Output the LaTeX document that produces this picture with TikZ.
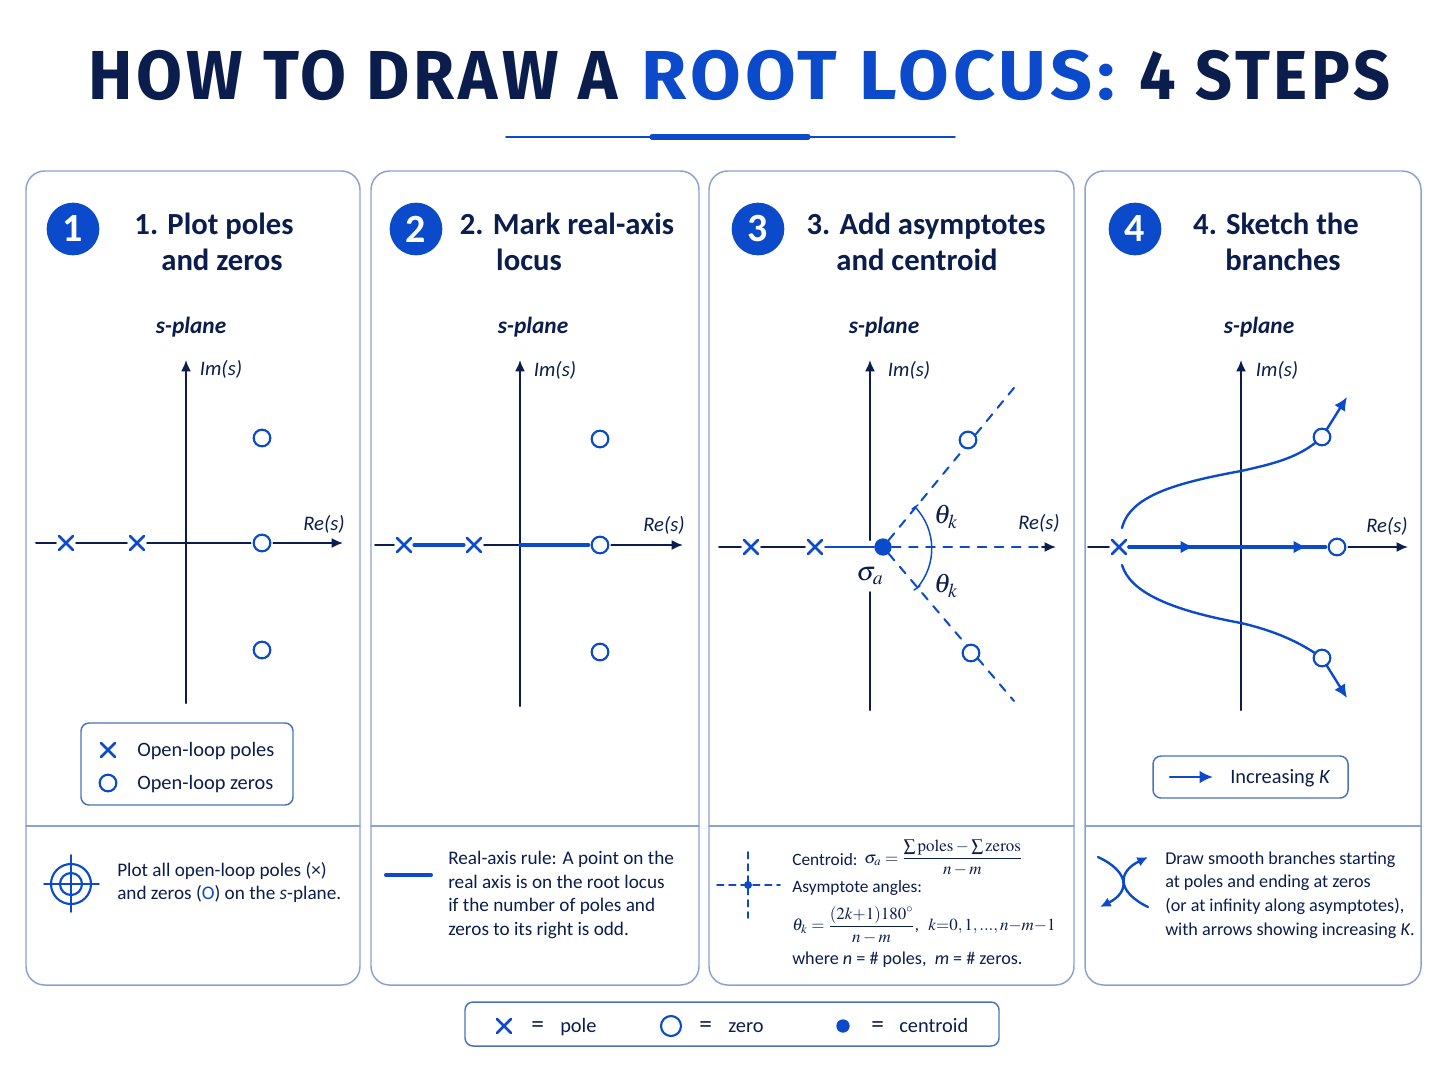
\documentclass[tikz,border=0pt]{standalone}
\usepackage{amsmath}
\usepackage{mathptmx}
\usepackage[no-math]{fontspec}
\setmainfont{Carlito}
\newfontfamily\titlefont[LetterSpace=6]{Fira Sans}
\usetikzlibrary{shapes.misc, arrows.meta}
\definecolor{navy}{HTML}{0B1D4D}
\definecolor{rlblue}{HTML}{0B4BCB}
\definecolor{frameblue}{HTML}{8AA2CF}
\definecolor{boxblue}{HTML}{4A72BC}
\newcommand{\bodyfont}{\fontsize{14.4}{17.8}\selectfont}
\newcommand{\narrowfont}{\fontsize{13.6}{17.8}\selectfont}
\newcommand{\keyfont}{\fontsize{15.3}{18}\selectfont}
\newcommand{\headfont}{\fontsize{23}{27}\selectfont\bfseries}
\newcommand{\planefont}{\fontsize{17.5}{20}\selectfont\bfseries\itshape}
\newcommand{\axisfont}{\fontsize{15.5}{18}\selectfont\itshape}
\tikzset{
  titlepart/.style={inner sep=0pt, text=navy, anchor=base, transform shape, font=\titlefont\fontsize{52}{60}\selectfont\bfseries},
  panelbox/.style={draw=frameblue, line width=1.1pt, rounded corners=14pt},
  keybox/.style={draw=boxblue, line width=1.1pt, rounded corners=6pt},
  divider/.style={draw=frameblue, line width=1.1pt},
  badge/.style={circle, fill=rlblue, text=white, minimum size=39.5pt, inner sep=0pt, font=\fontsize{30}{30}\selectfont\bfseries},
  headline/.style={text=navy, font=\headfont, inner sep=0pt, anchor=base},
  planelabel/.style={text=navy, font=\planefont, inner sep=0pt},
  axislabel/.style={text=navy, font=\axisfont, inner sep=0pt},
  bodytext/.style={text=navy, font=\bodyfont, align=left, anchor=west, inner sep=0pt},
  keytext/.style={bodytext, font=\keyfont, anchor=base west},
  equaltext/.style={keytext, font=\fontsize{19}{19}\selectfont},
  mathtext/.style={text=navy, font=\fontsize{12.7}{16}\selectfont, inner sep=0pt, anchor=west},
  biggreek/.style={text=navy, font=\fontsize{20}{20}\selectfont, inner sep=0pt},
  axisline/.style={draw=navy, line width=1.5pt},
  polemark/.style={cross out, draw=rlblue, line width=1.9pt, minimum size=10.5pt, inner sep=0pt, outer sep=0pt},
  zeromark/.style={circle, draw=rlblue, fill=white, line width=1.6pt, minimum size=12.5pt, inner sep=0pt, outer sep=0pt},
  gapA/.style={shorten <=2.3pt},
  gapB/.style={shorten >=2.3pt},
  locusline/.style={draw=rlblue, line width=2.4pt},
  branchline/.style={draw=rlblue, line width=1.8pt},
  asymline/.style={draw=rlblue, line width=1.5pt, dash pattern=on 6.5pt off 6.35pt},
  axistip/.style={-{Latex[length=8.5pt, width=7.5pt]}},
  bigtip/.style={-{Latex[length=10pt, width=9.5pt]}},
  smalltip/.style={-{Latex[length=8pt, width=7.5pt]}},
}
\begin{document}
\begin{tikzpicture}[x=0.75pt, y=-0.75pt, line cap=round, line join=round, >=latex]
  \useasboundingbox (0,0) rectangle (1448,1086);

  % Title
  \coordinate (titleA) at (353,99);
  \coordinate (titleB) at (878,99);
  \coordinate (titleC) at (1265,99);
  \node[titlepart, xscale=0.96] (titleHow) at (titleA) {HOW TO DRAW A};
  \node[titlepart, xscale=1.058, text=rlblue] (titleRoot) at (titleB) {ROOT LOCUS:};
  \node[titlepart, xscale=0.933] (titleSteps) at (titleC) {4 STEPS};
  \coordinate (ruleL) at (506,137);
  \coordinate (ruleR) at (955,137);
  \coordinate (ruleA) at (652,137);
  \coordinate (ruleB) at (808,137);
  \draw[rlblue, line width=1.3pt] (ruleL) -- (ruleR);
  \draw[rlblue, line width=4pt] (ruleA) -- (ruleB);

  % Panels
  \draw[panelbox] (26,171) rectangle (360,985);
  \draw[panelbox] (371,171) rectangle (699,985);
  \draw[panelbox] (709,171) rectangle (1074,985);
  \draw[panelbox] (1085,171) rectangle (1421,985);
  \draw[divider] (26,826) -- (360,826);
  \draw[divider] (371,826) -- (699,826);
  \draw[divider] (709,826) -- (1074,826);
  \draw[divider] (1085,826) -- (1421,826);

  % Panel headings
  \node[badge] (badgeA) at (73,229) {1};
  \node[badge] (badgeB) at (416,229) {2};
  \node[badge] (badgeC) at (758,229) {3};
  \node[badge] (badgeD) at (1135,229) {4};
  \node[headline] (headA1) at (214,234) {1. Plot poles};
  \node[headline] (headA2) at (222,270) {and zeros};
  \node[headline] (headB1) at (567,234) {2. Mark real-axis};
  \node[headline] (headB2) at (529,270) {locus};
  \node[headline] (headC1) at (926,234) {3. Add asymptotes};
  \node[headline] (headC2) at (917,270) {and centroid};
  \node[headline] (headD1) at (1276,234) {4. Sketch the};
  \node[headline] (headD2) at (1283,270) {branches};

  % Plane 1: poles and zeros
  \node[planelabel] (planeA) at (191,327) {s-plane};
  \node[axislabel] (imA) at (221,369) {Im(s)};
  \node[axislabel] (reA) at (324,524) {Re(s)};
  \coordinate (aW) at (36,543);
  \coordinate (aE) at (343,543);
  \coordinate (aS) at (186,703);
  \coordinate (aN) at (186,360);
  \node[polemark] (aP1) at (66,543) {};
  \node[polemark] (aP2) at (137,543) {};
  \node[zeromark] (aZ1) at (262,438) {};
  \node[zeromark] (aZ2) at (262,543) {};
  \node[zeromark] (aZ3) at (262,650) {};
  \draw[axisline, gapB] (aW) -- (aP1);
  \draw[axisline, gapA, gapB] (aP1) -- (aP2);
  \draw[axisline, gapA, gapB] (aP2) -- (aZ2);
  \draw[axisline, axistip, gapA] (aZ2) -- (aE);
  \draw[axisline, axistip] (aS) -- (aN);

  % Key of plane 1
  \draw[keybox] (81,723) rectangle (293,805);
  \node[polemark] (keyP) at (108,750) {};
  \node[zeromark] (keyZ) at (108,783) {};
  \node[keytext] (keyPt) at (137,756) {Open-loop poles};
  \node[keytext] (keyZt) at (137,789) {Open-loop zeros};

  % Plane 2: real-axis locus
  \node[planelabel] (planeB) at (533,327) {s-plane};
  \node[axislabel] (imB) at (555,370) {Im(s)};
  \node[axislabel] (reB) at (664,525) {Re(s)};
  \coordinate (bW) at (375,545);
  \coordinate (bE) at (683,545);
  \coordinate (bS) at (520,706);
  \coordinate (bN) at (520,360);
  \coordinate (bO) at (520,545);
  \node[polemark] (bP1) at (404,545) {};
  \node[polemark] (bP2) at (474,545) {};
  \node[zeromark] (bZ1) at (600,439) {};
  \node[zeromark] (bZ2) at (600,545) {};
  \node[zeromark] (bZ3) at (600,652) {};
  \draw[axisline, gapB] (bW) -- (bP1);
  \draw[axisline, gapA] (bP2) -- (bO);
  \draw[axisline, axistip, gapA] (bZ2) -- (bE);
  \draw[axisline, axistip] (bS) -- (bN);
  \draw[locusline, gapA, gapB] (bP1) -- (bP2);
  \draw[locusline, gapB] (bO) -- (bZ2);

  % Plane 3: asymptotes and centroid
  \node[planelabel] (planeC) at (884,327) {s-plane};
  \node[axislabel] (imC) at (909,370) {Im(s)};
  \node[axislabel] (reC) at (1039,523) {Re(s)};
  \coordinate (cW) at (719,547);
  \coordinate (cE) at (1056,547);
  \coordinate (cF) at (1042,547);
  \coordinate (cS) at (870,710);
  \coordinate (cN) at (870,360);
  \coordinate (cGap) at (870,592);
  \coordinate (cCut) at (870,540);
  \coordinate (cUp) at (1018,383);
  \coordinate (cDn) at (1014,701);
  \coordinate (cArcA) at (915,507);
  \coordinate (cArcB) at (917,588);
  \draw[axisline] (cS) -- (cGap);
  \draw[axisline, axistip] (cCut) -- (cN);
  \node[circle, fill=rlblue, minimum size=13pt, inner sep=0pt] (cC) at (883,547) {};
  \node[polemark] (cP1) at (751,547) {};
  \node[polemark] (cP2) at (815,547) {};
  \draw[axisline, gapB] (cW) -- (cP1);
  \draw[axisline, gapA, gapB] (cP1) -- (cP2);
  \draw[rlblue, line width=1.6pt, gapA] (cP2) -- (cC);
  \draw[asymline] (cC) -- (cF);
  \draw[axisline, axistip] (cF) -- (cE);
  \draw[asymline] (cC) -- (cUp);
  \draw[asymline] (cC) -- (cDn);
  \node[zeromark] (cZ1) at (968,440) {};
  \node[zeromark] (cZ2) at (971,653) {};
  \draw[rlblue, line width=1.1pt] (cArcA) .. controls (937,530) and (937,565) .. (cArcB);
  \draw[rlblue, line width=1.1pt] (912,509) -- (918,505);
  \draw[rlblue, line width=1.1pt] (914,590) -- (920,586);
  \node[biggreek] (thA) at (946,517) {$\theta_k$};
  \node[biggreek] (thB) at (946,586) {$\theta_k$};
  \node[biggreek] (sigC) at (870,576) {$\sigma_a$};

  % Plane 4: branches
  \node[planelabel] (planeD) at (1259,327) {s-plane};
  \node[axislabel] (imD) at (1277,370) {Im(s)};
  \node[axislabel] (reD) at (1387,526) {Re(s)};
  \coordinate (dW) at (1088,547);
  \coordinate (dE) at (1408,547);
  \coordinate (dS) at (1241,710);
  \coordinate (dN) at (1241,360);
  \coordinate (dEndA) at (1347,397);
  \coordinate (dEndB) at (1347,698);
  \coordinate (dTipA) at (1194,547);
  \coordinate (dTipB) at (1307,547);
  \node[polemark] (dP) at (1119,547) {};
  \node[zeromark] (dZ2) at (1337,547) {};
  \draw[axisline, gapB] (dW) -- (dP);
  \draw[axisline, axistip, gapA] (dZ2) -- (dE);
  \draw[axisline, axistip] (dS) -- (dN);
  \draw[locusline, gapA, gapB] (dP) -- (dZ2);
  \draw[locusline, bigtip, gapA] (dP) -- (dTipA);
  \draw[locusline, bigtip, gapA] (dP) -- (dTipB);
  \draw[branchline] (1122,528) .. controls (1130,496) and (1175,483) .. (1241,471)
    .. controls (1272,464) and (1300,458) .. (1322,437);
  \draw[branchline] (1122,565) .. controls (1130,592) and (1170,610) .. (1241,623)
    .. controls (1275,631) and (1300,642) .. (1322,658);
  \node[zeromark] (dZ1) at (1322,437) {};
  \node[zeromark] (dZ3) at (1322,658) {};
  \draw[branchline, bigtip] (dZ1) -- (dEndA);
  \draw[branchline, bigtip] (dZ3) -- (dEndB);

  % Key of plane 4
  \draw[keybox] (1153,756) rectangle (1348,798);
  \coordinate (keyA) at (1170,777);
  \coordinate (keyB) at (1213,777);
  \draw[branchline, bigtip] (keyA) -- (keyB);
  \node[keytext] (keyKt) at (1230,783) {Increasing \textit{K}};

  % Footer of panel 1
  \coordinate (tgt) at (71,884);
  \draw[rlblue, line width=1.6pt] (tgt) circle (20);
  \draw[rlblue, line width=1.6pt] (tgt) circle (11);
  \draw[rlblue, line width=1.3pt] (44,884) -- (99,884);
  \draw[rlblue, line width=1.3pt] (71,855) -- (71,912);
  \node[bodytext] (textA) at (117,882.5)
    {Plot all open-loop poles (\texttimes)\\and zeros (\textcolor{rlblue}{O}) on the \textit{s}-plane.};

  % Footer of panel 2
  \coordinate (barL) at (386,875);
  \coordinate (barR) at (431,875);
  \draw[rlblue, line width=3pt] (barL) -- (barR);
  \node[bodytext] (textB) at (448,895)
    {Real-axis rule: A point on the\\real axis is on the root locus\\if the number of poles and\\zeros to its right is odd.};

  % Footer of panel 3
  \coordinate (icoW) at (717,885);
  \coordinate (icoE) at (780,885);
  \coordinate (icoN) at (748,852);
  \coordinate (icoS) at (748,918);
  \draw[rlblue, line width=1.2pt, dash pattern=on 5pt off 4pt] (icoW) -- (icoE);
  \draw[rlblue, line width=1.2pt, dash pattern=on 5pt off 4pt] (icoN) -- (icoS);
  \node[circle, fill=rlblue, minimum size=6pt, inner sep=0pt] (icoC) at (748,885) {};
  \node[bodytext, font=\fontsize{13}{16}\selectfont] (textC1) at (792,860) {Centroid:};
  \node[mathtext] (eqA) at (864,858)
    {$\sigma_a=\dfrac{\sum\mathrm{poles}-\sum\mathrm{zeros}}{n-m}$};
  \node[bodytext, font=\fontsize{13}{16}\selectfont] (textC2) at (792,888) {Asymptote angles:};
  \node[mathtext] (eqB) at (792,925)
    {$\theta_k=\dfrac{(2k{+}1)180^\circ}{n-m}$,\hspace{7pt}$k{=}0,1,...,n{-}m{-}1$};
  \node[bodytext, font=\narrowfont] (textC3) at (792,959.5) {where \textit{n} = \# poles,\ \ \textit{m} = \# zeros.};

  % Footer of panel 4
  \coordinate (swA) at (1098,857);
  \coordinate (swB) at (1100,907);
  \coordinate (swC) at (1148,907);
  \coordinate (swD) at (1148,857);
  \draw[branchline, smalltip] (swA) .. controls (1130,872) and (1130,892) .. (swB);
  \draw[branchline, smalltip] (swC) .. controls (1117,892) and (1117,872) .. (swD);
  \node[bodytext, font=\narrowfont] (textD) at (1165,895)
    {Draw smooth branches starting\\at poles and ending at zeros\\(or at infinity along asymptotes),\\with arrows showing increasing \textit{K}.};

  % Bottom key
  \draw[keybox] (465,1002) rectangle (999,1046);
  \node[polemark] (botP) at (504,1026) {};
  \node[equaltext] (botPe) at (531,1032) {=};
  \node[keytext] (botPt) at (560,1032) {pole};
  \node[zeromark, minimum size=15pt] (botZ) at (671,1026) {};
  \node[equaltext] (botZe) at (699,1032) {=};
  \node[keytext] (botZt) at (728,1032) {zero};
  \node[circle, fill=rlblue, minimum size=10pt, inner sep=0pt] (botC) at (843,1026) {};
  \node[equaltext] (botCe) at (871,1032) {=};
  \node[keytext] (botCt) at (899,1032) {centroid};
\end{tikzpicture}
\end{document}
